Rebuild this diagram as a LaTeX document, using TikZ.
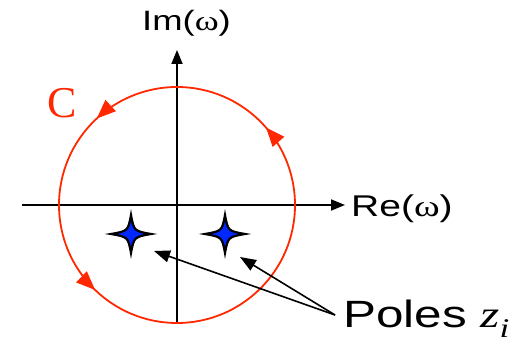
\documentclass[tikz,border=0pt]{standalone}
\usepackage{fontspec}
\setmainfont{Liberation Sans}
\newfontfamily\seriffont{Liberation Serif}
\usetikzlibrary{arrows.meta,decorations.markings,calc}
\definecolor{cred}{RGB}{255,40,0}
\definecolor{pblue}{RGB}{0,40,255}
\newcommand{\wide}[1]{\scalebox{1.3}[1]{#1}}
\tikzset{
  axis/.style={line width=1.8pt,-{Triangle[length=14pt,width=11pt]}},
  contour/.style={draw=cred,line width=1.8pt,
    postaction={decorate,decoration={markings,
      mark=at position 0.114 with {\arrow[cred]{Triangle[length=19pt,width=15pt]}},
      mark=at position 0.369 with {\arrow[cred]{Triangle[length=19pt,width=15pt]}},
      mark=at position 0.628 with {\arrow[cred]{Triangle[length=19pt,width=15pt]}}}}},
  pointer/.style={line width=1.6pt,-{Triangle[length=16pt,width=12pt]}},
  lbl/.style={inner sep=0pt,anchor=base west},
  pole/.pic={\path[fill=pblue,draw=black,line width=2.2pt,line join=miter]
    (20,0) .. controls (3,3) .. (0,19) .. controls (-3,3) .. (-20,0)
    .. controls (-3,-3) .. (0,-19) .. controls (3,-3) .. cycle;}
}
\begin{document}
\begin{tikzpicture}[x=1pt,y=1pt]
\useasboundingbox (0,0) rectangle (512,348);
\coordinate (O) at (177,143);
\coordinate (xl) at (22,143);
\coordinate (xr) at (345,143);
\coordinate (yb) at (177,26);
\coordinate (yt) at (177,298);
\draw[axis] (xl) -- (xr);
\draw[axis] (yb) -- (yt);
\draw[contour] ($(O)+(118,0)$) arc[start angle=0,end angle=360,radius=118];
\node[lbl,font=\fontsize{30}{32}\selectfont] (re) at (351,131) {\wide{Re({\seriffont ω})}};
\node[lbl,font=\fontsize{28}{30}\selectfont] (im) at (142,317) {\wide{Im({\seriffont ω})}};
\node[inner sep=0pt,text=cred,font=\seriffont\fontsize{44}{46}\selectfont] (C) at (62,245) {C};
\coordinate (p1) at (131,114);
\coordinate (p2) at (225,114);
\pic at (p1) {pole};
\pic at (p2) {pole};
\node[lbl,font=\fontsize{38}{40}\selectfont] (poles) at (343,20) {\wide{Poles {\seriffont\itshape z\raisebox{-0.25em}{\fontsize{27}{29}\selectfont i}}}};
\coordinate (t1) at (154,97);
\coordinate (t2) at (240,91);
\coordinate (s) at (335,33);
\draw[pointer] (s) -- (t1);
\draw[pointer] (s) -- (t2);
\end{tikzpicture}
\end{document}
